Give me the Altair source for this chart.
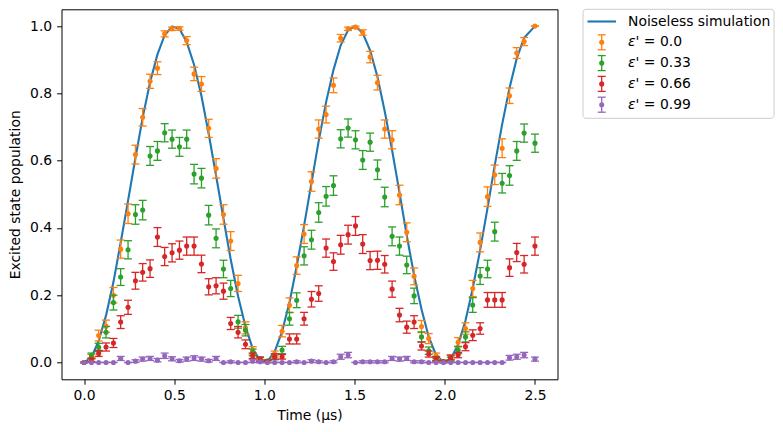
import altair as alt
import pandas as pd

# ---------------- data ----------------
t = [0.0, 0.041, 0.081, 0.122, 0.163, 0.203, 0.244, 0.285, 0.325, 0.366,
     0.407, 0.447, 0.488, 0.529, 0.569, 0.61, 0.651, 0.691, 0.732, 0.773,
     0.813, 0.854, 0.895, 0.935, 0.976, 1.017, 1.057, 1.098, 1.139, 1.179,
     1.22, 1.261, 1.301, 1.342, 1.383, 1.423, 1.464, 1.505, 1.545, 1.586,
     1.627, 1.667, 1.708, 1.749, 1.789, 1.83, 1.871, 1.911, 1.952, 1.993,
     2.033, 2.074, 2.115, 2.155, 2.196, 2.237, 2.277, 2.318, 2.359, 2.399,
     2.44, 2.5]

noiseless = [0.0, 0.016, 0.064, 0.140, 0.239, 0.356, 0.481, 0.608, 0.728, 0.833,
             0.916, 0.973, 0.999, 0.992, 0.953, 0.885, 0.792, 0.680, 0.556, 0.428,
             0.307, 0.197, 0.107, 0.041, 0.006, 0.003, 0.032, 0.092, 0.178, 0.286,
             0.407, 0.534, 0.659, 0.774, 0.870, 0.943, 0.988, 1.000, 0.979, 0.928,
             0.849, 0.747, 0.631, 0.505, 0.378, 0.259, 0.158, 0.076, 0.022, 0.001,
             0.011, 0.053, 0.125, 0.220, 0.334, 0.459, 0.586, 0.708, 0.816, 0.904,
             0.965, 1.0]

p_00 = [0.0, 0.017, 0.08, 0.108, 0.2, 0.337, 0.442, 0.618, 0.729, 0.836,
        0.875, 0.977, 0.992, 0.993, 0.957, 0.858, 0.828, 0.696, 0.577, 0.44,
        0.361, 0.235, 0.103, 0.036, 0.005, 0.004, 0.025, 0.093, 0.17, 0.288,
        0.382, 0.538, 0.694, 0.737, 0.824, 0.964, 0.992, 0.997, 0.981, 0.908,
        0.832, 0.694, 0.662, 0.498, 0.387, 0.256, 0.107, 0.071, 0.02, 0.003,
        0.015, 0.06, 0.101, 0.22, 0.357, 0.493, 0.558, 0.637, 0.793, 0.92,
        0.954, 1.0]
e_00 = [0.0, 0.007, 0.016, 0.018, 0.023, 0.027, 0.029, 0.028, 0.026, 0.021,
        0.019, 0.009, 0.005, 0.005, 0.012, 0.02, 0.022, 0.027, 0.029, 0.029,
        0.028, 0.024, 0.018, 0.011, 0.004, 0.004, 0.009, 0.017, 0.022, 0.026,
        0.028, 0.029, 0.027, 0.025, 0.022, 0.011, 0.005, 0.003, 0.008, 0.017,
        0.022, 0.027, 0.027, 0.029, 0.028, 0.025, 0.018, 0.015, 0.008, 0.003,
        0.007, 0.014, 0.017, 0.024, 0.028, 0.029, 0.029, 0.028, 0.023, 0.016,
        0.012, 0.0]

p_33 = [0.0, 0.02, 0.045, 0.09, 0.178, 0.254, 0.335, 0.44, 0.453, 0.614,
        0.629, 0.683, 0.664, 0.641, 0.664, 0.56, 0.548, 0.438, 0.369, 0.278,
        0.22, 0.121, 0.096, 0.03, 0.01, 0.004, 0.015, 0.037, 0.13, 0.185,
        0.317, 0.365, 0.446, 0.494, 0.526, 0.665, 0.697, 0.662, 0.602, 0.655,
        0.573, 0.492, 0.375, 0.346, 0.29, 0.198, 0.076, 0.035, 0.012, 0.003,
        0.01, 0.037, 0.076, 0.171, 0.257, 0.278, 0.389, 0.533, 0.556, 0.629,
        0.682, 0.652]
e_33 = [0.0, 0.008, 0.012, 0.017, 0.022, 0.025, 0.027, 0.029, 0.029, 0.028,
        0.028, 0.027, 0.027, 0.028, 0.027, 0.029, 0.029, 0.029, 0.028, 0.026,
        0.024, 0.019, 0.017, 0.01, 0.006, 0.004, 0.007, 0.011, 0.019, 0.022,
        0.027, 0.028, 0.029, 0.029, 0.029, 0.027, 0.027, 0.027, 0.028, 0.027,
        0.029, 0.029, 0.028, 0.027, 0.026, 0.023, 0.015, 0.011, 0.006, 0.003,
        0.006, 0.011, 0.015, 0.022, 0.025, 0.026, 0.028, 0.029, 0.029, 0.028,
        0.027, 0.027]

p_66 = [0.0, 0.008, 0.027, 0.046, 0.058, 0.12, 0.164, 0.243, 0.268, 0.279,
        0.373, 0.315, 0.326, 0.334, 0.346, 0.346, 0.293, 0.225, 0.228, 0.212,
        0.116, 0.09, 0.054, 0.02, 0.01, 0.003, 0.018, 0.017, 0.07, 0.07,
        0.13, 0.188, 0.205, 0.34, 0.30, 0.35, 0.38, 0.406, 0.352, 0.303,
        0.304, 0.292, 0.218, 0.141, 0.105, 0.12, 0.049, 0.025, 0.01, 0.002,
        0.015, 0.022, 0.047, 0.081, 0.101, 0.186, 0.186, 0.186, 0.282, 0.327,
        0.292, 0.346]
e_66 = [0.0, 0.005, 0.009, 0.012, 0.0135, 0.019, 0.021, 0.025, 0.026, 0.026,
        0.028, 0.027, 0.027, 0.027, 0.027, 0.027, 0.026, 0.024, 0.024, 0.024,
        0.018, 0.017, 0.013, 0.008, 0.006, 0.003, 0.008, 0.007, 0.015, 0.015,
        0.019, 0.023, 0.023, 0.027, 0.026, 0.028, 0.028, 0.028, 0.028, 0.027,
        0.027, 0.026, 0.024, 0.02, 0.018, 0.019, 0.012, 0.009, 0.006, 0.003,
        0.007, 0.008, 0.012, 0.016, 0.017, 0.022, 0.022, 0.022, 0.026, 0.027,
        0.026, 0.027]

p_99 = [0.0, 0.0, 0.0, 0.0, 0.0, 0.012, 0.0, 0.004, 0.01, 0.012,
        0.007, 0.02, 0.011, 0.005, 0.01, 0.013, 0.01, 0.005, 0.012, 0.0,
        0.002, 0.0, 0.0, 0.004, 0.002, 0.0, 0.0, 0.0, 0.0, 0.002,
        0.0, 0.004, 0.002, 0.0, 0.002, 0.017, 0.022, 0.0, 0.002, 0.002,
        0.002, 0.002, 0.012, 0.01, 0.012, 0.002, 0.002, 0.0, 0.0, 0.0,
        0.0, 0.0, 0.0, 0.0, 0.0, 0.0, 0.0, 0.0, 0.014, 0.017,
        0.022, 0.01]
e_99 = [0.0, 0.0, 0.0, 0.0, 0.0, 0.006, 0.0, 0.004, 0.006, 0.006,
        0.005, 0.008, 0.006, 0.004, 0.006, 0.007, 0.006, 0.004, 0.006, 0.0,
        0.003, 0.0, 0.0, 0.004, 0.003, 0.0, 0.0, 0.0, 0.0, 0.003,
        0.0, 0.004, 0.003, 0.0, 0.003, 0.0075, 0.008, 0.0, 0.003, 0.003,
        0.003, 0.003, 0.006, 0.006, 0.006, 0.003, 0.003, 0.0, 0.0, 0.0,
        0.0, 0.0, 0.0, 0.0, 0.0, 0.0, 0.0, 0.0, 0.007, 0.0075,
        0.008, 0.006]

series_symbol = "ε"
series_suffixes = ["' = 0.0", "' = 0.33", "' = 0.66", "' = 0.99"]
series_values = [p_00, p_33, p_66, p_99]
series_errors = [e_00, e_33, e_66, e_99]
series_colors = ["#ff7f0e", "#2ca02c", "#d62728", "#9467bd"]
line_label = "Noiseless simulation"
line_color = "#1f77b4"

x_ticks = [0.0, 0.5, 1.0, 1.5, 2.0, 2.5]
y_ticks = [0.0, 0.2, 0.4, 0.6, 0.8, 1.0]

FONT = "DejaVu Sans"
FS = 13.9

# ---------------- encodings ----------------
x_scale = alt.Scale(domain=[-0.125, 2.625], nice=False, zero=False)
y_scale = alt.Scale(domain=[-0.05, 1.05], nice=False, zero=False)
x_axis = alt.Axis(values=x_ticks, format=".1f", title="Time (μs)")
y_axis = alt.Axis(values=y_ticks, format=".1f", title="Excited state population")


def X(field):
    return alt.X(f"{field}:Q", scale=x_scale, axis=x_axis, title="Time (μs)")


def Y(field):
    return alt.Y(f"{field}:Q", scale=y_scale, axis=y_axis,
                 title="Excited state population")


MS = 26  # marker area

line_df = pd.DataFrame({"t": t, "p": noiseless})
layers = [
    alt.Chart(line_df).mark_line(color=line_color, strokeWidth=2.1).encode(
        x=X("t"), y=Y("p"))
]

for vals, errs, col in zip(series_values, series_errors, series_colors):
    d = pd.DataFrame({"t": t, "p": vals, "e": errs})
    d["lo"] = d["p"] - d["e"]
    d["hi"] = d["p"] + d["e"]
    base = alt.Chart(d)
    layers.append(base.mark_rule(color=col, strokeWidth=1.3).encode(
        x=X("t"), y=Y("lo"), y2=alt.Y2("hi")))
    layers.append(base.mark_tick(color=col, orient="horizontal", size=8, thickness=1.3,
                                 opacity=1).encode(x=X("t"), y=Y("lo")))
    layers.append(base.mark_tick(color=col, orient="horizontal", size=8, thickness=1.3,
                                 opacity=1).encode(x=X("t"), y=Y("hi")))
    layers.append(base.mark_circle(color=col, size=MS, opacity=1).encode(
        x=X("t"), y=Y("p")))

# ---------------- hand-drawn legend (outside the plot, right side) ----------------
one = alt.Data(values=[{"k": 1}])
LX0, LX1, LY0, LY1 = 521.5, 712.5, 0, 109
layers.append(alt.Chart(one).mark_rect(fill="white", stroke="#cccccc", strokeWidth=1,
                                       cornerRadius=3).encode(
    x=alt.value(LX0), x2=alt.value(LX1), y=alt.value(LY0), y2=alt.value(LY1)))

row0, dy = 12.2, 20.8
text_x = 566.5
icon_x = 540.2

layers.append(alt.Chart(one).mark_rule(color=line_color, strokeWidth=2.1).encode(
    x=alt.value(526), x2=alt.value(554.5), y=alt.value(row0)))
layers.append(alt.Chart(one).mark_text(text=line_label, align="left", baseline="middle",
                                       font=FONT, fontSize=FS, color="black").encode(
    x=alt.value(text_x), y=alt.value(row0)))

for i, (suf, col) in enumerate(zip(series_suffixes, series_colors)):
    yc = row0 + dy * (i + 1)
    layers.append(alt.Chart(one).mark_rule(color=col, strokeWidth=1.3).encode(
        x=alt.value(icon_x), y=alt.value(yc - 7.5), y2=alt.value(yc + 7.5)))
    for yy in (yc - 7.5, yc + 7.5):
        layers.append(alt.Chart(one).mark_rule(color=col, strokeWidth=1.3).encode(
            x=alt.value(icon_x - 4), x2=alt.value(icon_x + 4), y=alt.value(yy)))
    layers.append(alt.Chart(one).mark_circle(color=col, size=MS, opacity=1).encode(
        x=alt.value(icon_x), y=alt.value(yc)))
    layers.append(alt.Chart(one).mark_text(text=series_symbol, align="left",
                                           baseline="middle", font=FONT, fontSize=FS,
                                           fontStyle="italic", color="black").encode(
        x=alt.value(text_x), y=alt.value(yc)))
    layers.append(alt.Chart(one).mark_text(text=suf, align="left", baseline="middle",
                                           font=FONT, fontSize=FS, color="black").encode(
        x=alt.value(text_x + 7.6), y=alt.value(yc)))

chart = alt.layer(*layers).properties(
    width=496, height=370,
    autosize=alt.AutoSizeParams(type="none"),
    padding={"left": 61.5, "top": 9.3, "right": 225.5, "bottom": 52.7},
    background="white",
).configure_view(
    stroke="black", strokeWidth=1
).configure_axis(
    grid=False, domain=False,
    labelFont=FONT, titleFont=FONT, labelFontSize=FS, titleFontSize=FS,
    titleFontWeight="normal", labelColor="black", titleColor="black",
    tickColor="black", tickWidth=1, tickSize=4.9,
).configure_axisX(
    labelPadding=4.5, titlePadding=6
).configure_axisY(
    labelPadding=4.9, titlePadding=7
)

chart.save("out.html", embed_options={"renderer": "svg", "actions": False})
